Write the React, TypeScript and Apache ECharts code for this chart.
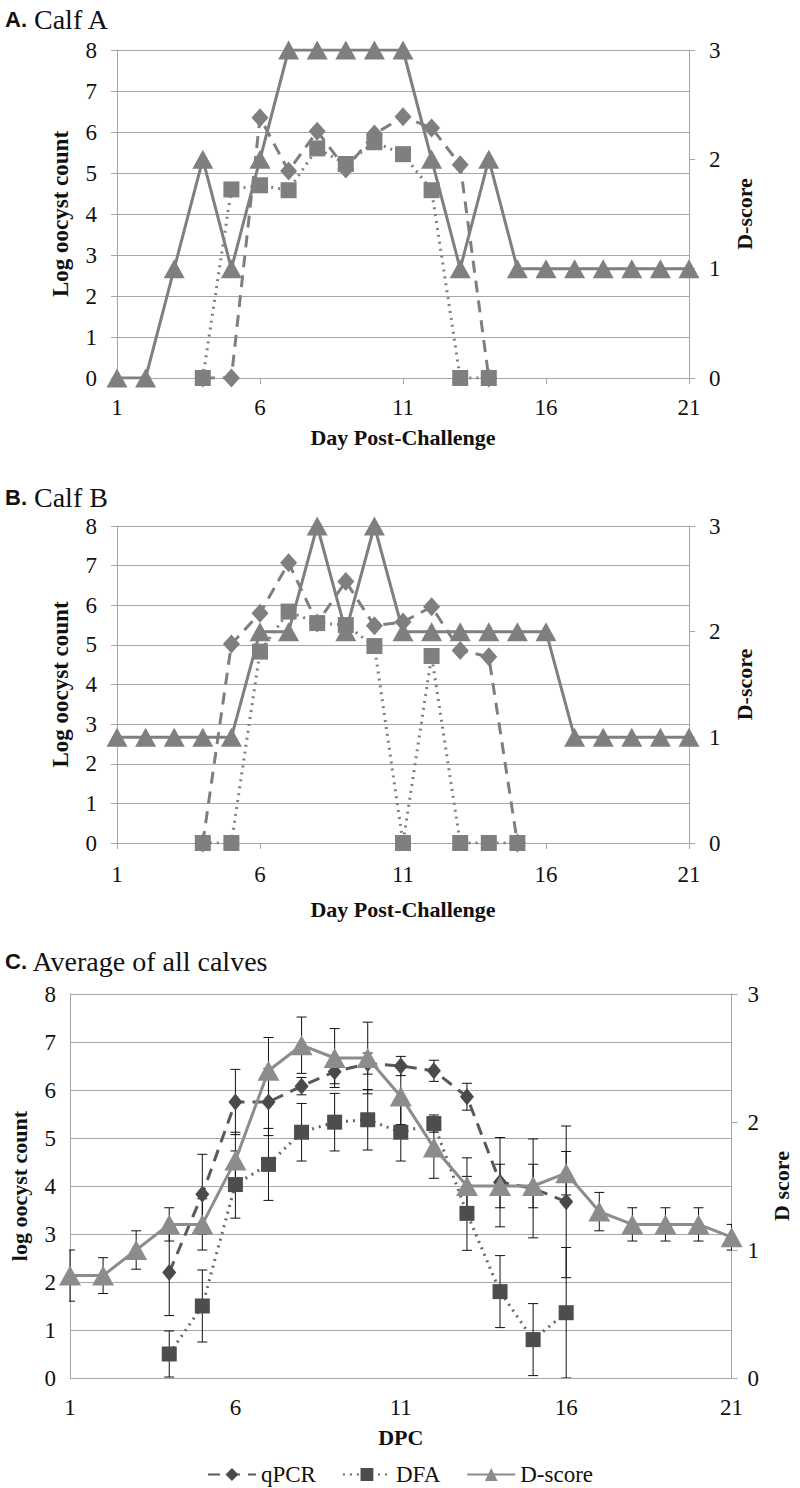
import React, { useEffect, useRef } from "react";
import * as echarts from "echarts";

const days = ["1","2","3","4","5","6","7","8","9","10","11","12","13","14","15","16","17","18","19","20","21"];

// Panel A: Calf A
const calfAQpcr = [null,null,null,0,0,6.35,5.05,6.02,5.1,5.95,6.37,6.1,5.2,0,null,null,null,null,null,null,null];
const calfADfa = [null,null,null,0,4.6,4.7,4.58,5.6,5.22,5.75,5.46,4.58,0,0,null,null,null,null,null,null,null];
const calfADscore = [0,0,1,2,1,2,3,3,3,3,3,2,1,2,1,1,1,1,1,1,1];

// Panel B: Calf B
const calfBQpcr = [null,null,null,0,5.02,5.8,7.07,5.55,6.6,5.48,5.58,5.96,4.86,4.7,0,null,null,null,null,null,null];
const calfBDfa = [null,null,null,0,0,4.83,5.84,5.55,5.5,4.97,0,4.72,0,0,0,null,null,null,null,null,null];
const calfBDscore = [1,1,1,1,1,2,2,3,2,3,2,2,2,2,2,2,1,1,1,1,1];

// Panel C: average of all calves (mean and error)
const avgQpcr = [null,null,null,2.2,3.83,5.75,5.75,6.08,6.38,6.55,6.5,6.4,5.86,4.08,3.95,3.67,null,null,null,null,null];
const avgQpcrErr = [null,null,null,0.9,0.83,0.68,0.7,0.18,0.25,0.22,0.2,0.22,0.28,0.93,1.03,1.58,null,null,null,null,null];
const avgDfa = [null,null,null,0.5,1.5,4.03,4.45,5.12,5.33,5.38,5.12,5.3,3.43,1.8,0.8,1.36,null,null,null,null,null];
const avgDfaErr = [null,null,null,0.48,0.75,0.7,0.75,0.6,0.6,0.63,0.6,0.18,0.77,0.75,0.75,1.36,null,null,null,null,null];
const avgDscore = [0.8,0.8,1.0,1.2,1.2,1.7,2.4,2.6,2.5,2.5,2.2,1.8,1.5,1.5,1.5,1.6,1.3,1.2,1.2,1.2,1.1];
const avgDscoreErr = [0.2,0.14,0.15,0.13,0.2,0.22,0.26,0.22,0.23,0.28,0.22,0.24,0.22,0.17,0.17,0.17,0.15,0.13,0.13,0.13,0.1];

const leftTicks = ["0","1","2","3","4","5","6","7","8"];
const rightTicks = ["0","1","2","3"];

const serif = "Liberation Serif";
const sans = "Liberation Sans";
const gridCol = "#a6a6a6";
const textCol = "#111";

function errRows(vals: (number | null)[], errs: (number | null)[]) {
  const out: number[][] = [];
  vals.forEach((v, i) => {
    const e = errs[i];
    if (v == null || e == null) return;
    out.push([i, Math.max(0, v - e), v + e]);
  });
  return out;
}

function errorSeries(name: string, xi: number, yi: number, rows: number[][]) {
  return {
    type: "custom",
    name,
    xAxisIndex: xi,
    yAxisIndex: yi,
    clip: true,
    z: 1,
    data: rows,
    encode: { x: 0, y: [1, 2] },
    renderItem: (params: any, api: any) => {
      const lo = api.coord([api.value(0), api.value(1)]);
      const hi = api.coord([api.value(0), api.value(2)]);
      const w = 5;
      const st = { stroke: "#111", lineWidth: 1 };
      return {
        type: "group",
        children: [
          { type: "line", shape: { x1: lo[0], y1: lo[1], x2: hi[0], y2: hi[1] }, style: st },
          { type: "line", shape: { x1: lo[0] - w, y1: lo[1], x2: lo[0] + w, y2: lo[1] }, style: st },
          { type: "line", shape: { x1: hi[0] - w, y1: hi[1], x2: hi[0] + w, y2: hi[1] }, style: st },
        ],
      };
    },
  };
}

function xAxisDef(gi: number, name: string, labelMargin: number, nameGap: number, ticks: boolean) {
  return {
    type: "category",
    gridIndex: gi,
    data: days,
    boundaryGap: false,
    name,
    nameLocation: "middle",
    nameGap,
    nameTextStyle: { fontFamily: serif, fontWeight: "bold", fontSize: 22, color: textCol },
    axisLine: { show: true, lineStyle: { color: gridCol, width: 1 } },
    axisTick: { show: ticks, interval: 4, length: 6, lineStyle: { color: gridCol } },
    axisLabel: { interval: 4, margin: labelMargin, fontFamily: serif, fontSize: 23, color: textCol },
    splitLine: { show: false },
  };
}

function yLeftDef(gi: number, name: string, nameGap: number, labelMargin: number, ticks: boolean, nameSize: number) {
  return {
    type: "value",
    gridIndex: gi,
    position: "left",
    min: 0,
    max: 8,
    interval: 1,
    name,
    nameLocation: "middle",
    nameGap,
    nameRotate: 90,
    nameTextStyle: { fontFamily: serif, fontWeight: "bold", fontSize: nameSize, color: textCol },
    axisLine: { show: true, lineStyle: { color: gridCol, width: 1 } },
    axisTick: { show: ticks, length: 6, lineStyle: { color: gridCol } },
    axisLabel: {
      margin: labelMargin,
      fontFamily: serif,
      fontSize: 23,
      color: textCol,
      formatter: (v: number) => leftTicks[Math.round(v)] ?? "",
    },
    splitLine: { show: true, lineStyle: { color: gridCol, width: 1 } },
  };
}

function yRightDef(gi: number, name: string, nameGap: number, labelMargin: number, ticks: boolean) {
  return {
    type: "value",
    gridIndex: gi,
    position: "right",
    min: 0,
    max: 3,
    interval: 1,
    name,
    nameLocation: "middle",
    nameGap,
    nameRotate: 90,
    nameTextStyle: { fontFamily: serif, fontWeight: "bold", fontSize: 22, color: textCol },
    axisLine: { show: true, lineStyle: { color: gridCol, width: 1 } },
    axisTick: { show: ticks, length: 6, lineStyle: { color: gridCol } },
    axisLabel: {
      margin: labelMargin,
      fontFamily: serif,
      fontSize: 23,
      color: textCol,
      formatter: (v: number) => rightTicks[Math.round(v)] ?? "",
    },
    splitLine: { show: false },
  };
}

function lineSeries(
  name: string,
  xi: number,
  yi: number,
  data: (number | null)[],
  kind: "q" | "d" | "s",
  markerColor: string,
  lineColor: string,
  big: boolean
) {
  const symbol = kind === "q" ? "diamond" : kind === "d" ? "rect" : "triangle";
  const size =
    kind === "q" ? (big ? [17, 19] : [14, 17]) : kind === "d" ? (big ? 16 : 15) : big ? [21, 19] : [22, 20];
  const lt = kind === "q" ? [12, 8] : kind === "d" ? [2, 5] : "solid";
  return {
    type: "line",
    name,
    xAxisIndex: xi,
    yAxisIndex: yi,
    data,
    symbol,
    symbolSize: size,
    showSymbol: true,
    showAllSymbol: true,
    connectNulls: false,
    z: kind === "s" ? 4 : kind === "d" ? 3 : 2,
    itemStyle: { color: markerColor, borderWidth: 0 },
    lineStyle: { color: lineColor, width: 3, type: lt },
  };
}

export default function App() {
  const ref = useRef<HTMLDivElement>(null);
  useEffect(() => {
    if (!ref.current) return;
    const chart = echarts.init(ref.current, null, { renderer: "svg" });
    const abCol = "#7f7f7f";
    const titleRich = {
      a: { fontFamily: sans, fontWeight: "bold", fontSize: 22, color: "#111" },
      b: { fontFamily: serif, fontWeight: "normal", fontSize: 28, color: "#111" },
    };
    chart.setOption({
      animation: false,
      backgroundColor: "#fff",
      textStyle: { fontFamily: serif },
      title: [
        { text: "{a|A.}{b| Calf A}", left: 0, top: 0, textStyle: { fontFamily: serif, fontWeight: "normal", rich: titleRich } },
        { text: "{a|B.}{b| Calf B}", left: 0, top: 478, textStyle: { fontFamily: serif, fontWeight: "normal", rich: titleRich } },
        { text: "{a|C.}{b| Average of all calves}", left: 0, top: 942, textStyle: { fontFamily: serif, fontWeight: "normal", rich: titleRich } },
      ],
      legend: {
        data: ["qPCR", "DFA", "D-score"],
        left: "center",
        top: 1458,
        itemWidth: 48,
        itemHeight: 16,
        itemGap: 26,
        textStyle: { fontFamily: serif, fontSize: 23, color: textCol },
      },
      grid: [
        { left: 117, right: 111, top: 50, height: 328 },
        { left: 117, right: 111, top: 526, height: 317 },
        { left: 63, right: 57, top: 994, height: 384 },
      ],
      xAxis: [
        xAxisDef(0, "Day Post-Challenge", 18, 48, true),
        xAxisDef(1, "Day Post-Challenge", 20, 55, true),
        xAxisDef(2, "DPC", 18, 48, false),
      ],
      yAxis: [
        yLeftDef(0, "Log oocyst count", 45, 20, true, 23),
        yRightDef(0, "D-score", 44, 20, true),
        yLeftDef(1, "Log oocyst count", 45, 20, true, 23),
        yRightDef(1, "D-score", 44, 20, true),
        yLeftDef(2, "log oocyst count", 40, 14, false, 22),
        yRightDef(2, "D score", 36, 16, true),
      ],
      series: [
        // Panel C first so the legend takes its styles
        errorSeries("errQ", 2, 4, errRows(avgQpcr, avgQpcrErr)),
        errorSeries("errF", 2, 4, errRows(avgDfa, avgDfaErr)),
        errorSeries("errD", 2, 5, errRows(avgDscore, avgDscoreErr)),
        lineSeries("qPCR", 2, 4, avgQpcr, "q", "#4a4a4a", "#595959", false),
        lineSeries("DFA", 2, 4, avgDfa, "d", "#4d4d4d", "#666666", false),
        lineSeries("D-score", 2, 5, avgDscore, "s", "#8c8c8c", "#8c8c8c", false),
        // Panel A
        lineSeries("qPCR", 0, 0, calfAQpcr, "q", abCol, abCol, true),
        lineSeries("DFA", 0, 0, calfADfa, "d", abCol, abCol, true),
        lineSeries("D-score", 0, 1, calfADscore, "s", abCol, abCol, true),
        // Panel B
        lineSeries("qPCR", 1, 2, calfBQpcr, "q", abCol, abCol, true),
        lineSeries("DFA", 1, 2, calfBDfa, "d", abCol, abCol, true),
        lineSeries("D-score", 1, 3, calfBDscore, "s", abCol, abCol, true),
      ],
    });
    return () => chart.dispose();
  }, []);
  return (
    <div
      ref={ref}
      style={{ position: "absolute", left: 0, top: 0, width: 800, height: 1488, background: "#fff" }}
    />
  );
}
